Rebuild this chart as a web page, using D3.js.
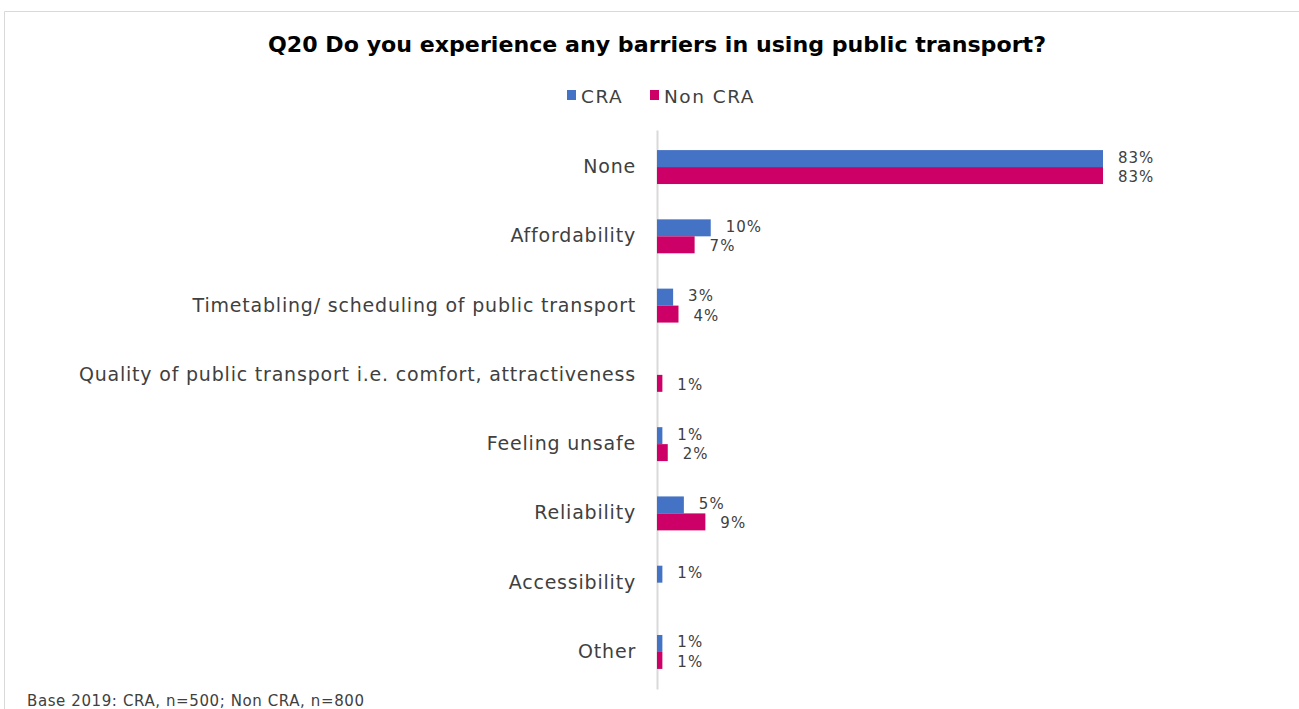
<!DOCTYPE html>
<html>
<head>
<meta charset="utf-8">
<script src="https://cdn.jsdelivr.net/npm/d3@7"></script>
<style>
  html, body { margin: 0; padding: 0; background: #fff; }
  svg { display: block; }
</style>
</head>
<body>
<svg id="chart" width="1299" height="709"></svg>
<script>
// Survey answers, share of respondents (%)
const categories = [
  "None",
  "Affordability",
  "Timetabling/ scheduling of public transport",
  "Quality of public transport i.e. comfort, attractiveness",
  "Feeling unsafe",
  "Reliability",
  "Accessibility",
  "Other"
];
const seriesNames = ["CRA", "Non CRA"];
const craValues    = [83, 10, 3, 0, 1, 5, 1, 1];
const nonCraValues = [83, 7, 4, 1, 2, 9, 0, 1];

const titleText = "Q20 Do you experience any barriers in using public transport?";
const baseText = "Base 2019: CRA, n=500; Non CRA, n=800";

const colors = { "CRA": "#4472C4", "Non CRA": "#CC0066" };
const font = "'DejaVu Sans', sans-serif";

const rows = categories.map((c, i) => ({
  category: c,
  values: [
    { series: "CRA", value: craValues[i] },
    { series: "Non CRA", value: nonCraValues[i] }
  ]
}));

const svg = d3.select("#chart");

// Outer frame
svg.append("path")
  .attr("d", "M4.5,709 V11.5 H1299")
  .attr("fill", "none")
  .attr("stroke", "#d9d9d9")
  .attr("stroke-width", 1);

// Scales
const x = d3.scaleLinear().domain([0, 83]).range([657, 1103]);
const y = d3.scaleBand()
  .domain(categories)
  .range([130, 689])
  .paddingInner(0.51)
  .paddingOuter(0.29);
const ySub = d3.scaleBand()
  .domain(seriesNames)
  .range([0, y.bandwidth()]);

// Title
svg.append("text")
  .attr("x", 657)
  .attr("y", 52)
  .attr("text-anchor", "middle")
  .attr("font-family", font)
  .attr("font-weight", "bold")
  .attr("font-size", 21)
  .attr("fill", "#000")
  .attr("textLength", 778)
  .attr("lengthAdjust", "spacingAndGlyphs")
  .text(titleText);

// Legend
const legend = svg.append("g")
  .attr("font-family", font)
  .attr("font-size", 18.5)
  .attr("letter-spacing", 1.5)
  .attr("fill", "#404040");
const legendItems = [{ name: "CRA", x: 567 }, { name: "Non CRA", x: 650 }];
legendItems.forEach(d => {
  legend.append("rect")
    .attr("x", d.x).attr("y", 90).attr("width", 9).attr("height", 10)
    .attr("fill", colors[d.name]);
  legend.append("text")
    .attr("x", d.x + 14).attr("y", 96)
    .attr("dominant-baseline", "central")
    .text(d.name);
});

// Category axis
const yAxis = d3.axisLeft(y).tickSize(0).tickPadding(21);
const axisG = svg.append("g")
  .attr("transform", "translate(657,0)")
  .call(yAxis);
axisG.select(".domain").attr("stroke", "#d9d9d9").attr("stroke-width", 2);
axisG.selectAll(".tick text")
  .attr("font-family", font)
  .attr("font-size", 19)
  .attr("letter-spacing", 0.8)
  .attr("fill", "#404040");

// Bars
const groups = svg.append("g")
  .selectAll("g")
  .data(rows)
  .join("g")
  .attr("transform", d => `translate(0,${y(d.category)})`);

groups.selectAll("rect")
  .data(d => d.values.filter(v => v.value > 0))
  .join("rect")
  .attr("x", x(0))
  .attr("y", d => ySub(d.series))
  .attr("width", d => x(d.value) - x(0))
  .attr("height", ySub.bandwidth())
  .attr("fill", d => colors[d.series]);

// Value labels, nudged apart so paired labels do not collide
groups.selectAll("text.value")
  .data(d => d.values.filter(v => v.value > 0))
  .join("text")
  .attr("class", "value")
  .attr("x", d => x(d.value) + 15)
  .attr("y", d => ySub(d.series) + ySub.bandwidth() / 2 + (d.series === "CRA" ? -1 : 1.5))
  .attr("dominant-baseline", "central")
  .attr("font-family", font)
  .attr("font-size", 15)
  .attr("letter-spacing", 1)
  .attr("fill", "#404040")
  .text(d => d.value + "%");

// Base note
svg.append("text")
  .attr("x", 27)
  .attr("y", 706)
  .attr("font-family", font)
  .attr("font-size", 15)
  .attr("letter-spacing", 0.6)
  .attr("fill", "#404040")
  .text(baseText);
</script>
</body>
</html>
